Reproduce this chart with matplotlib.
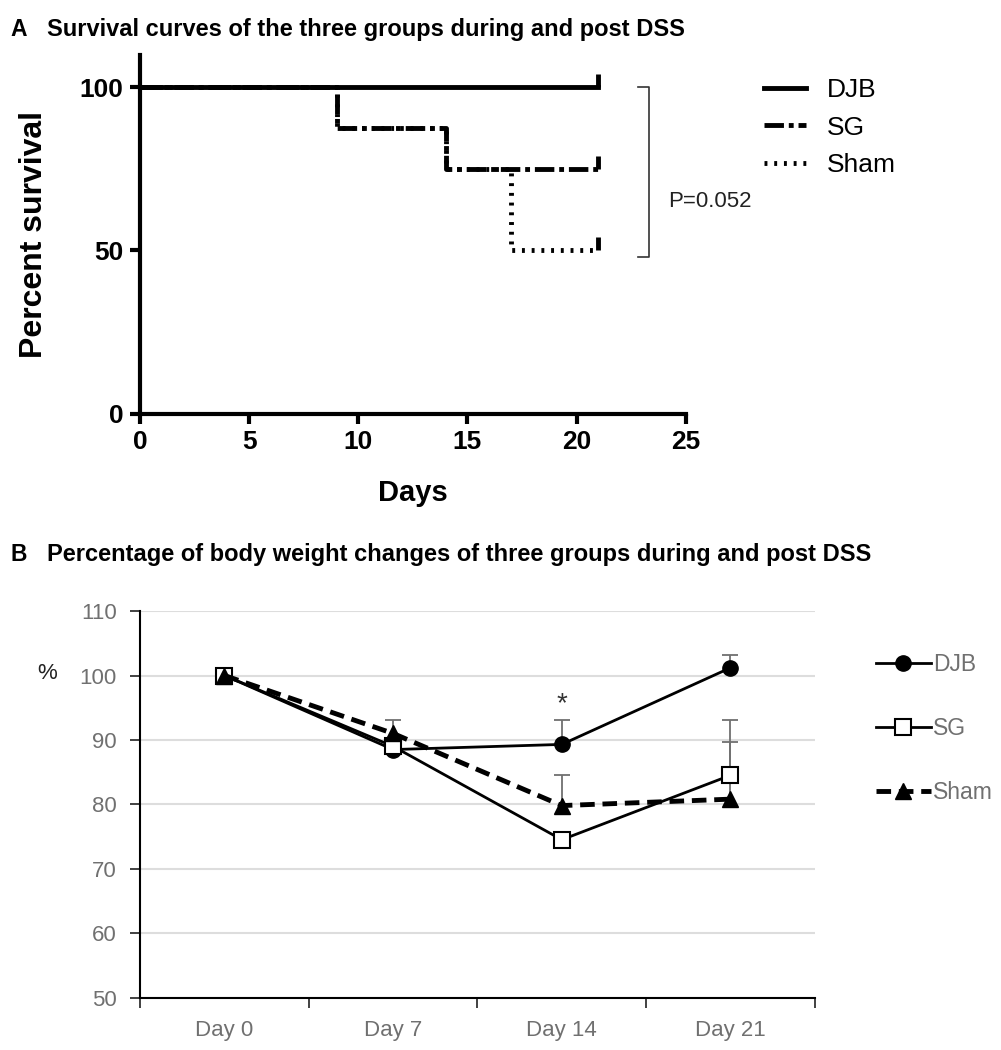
import numpy as np
import matplotlib.pyplot as plt

# survival data (panel A)
sg_days = [0, 9, 14, 21]
sg_surv = [100, 87.5, 75, 75]
sham_days = [0, 9, 14, 17, 21]
sham_surv = [100, 87.5, 75, 50, 50]
djb_days = [0, 21]
djb_surv = [100, 100]
censor_day = 21
censor_vals = [100, 75, 50]

# body weight data (panel B)
cats = ["Day 0", "Day 7", "Day 14", "Day 21"]
djb_w = [100, 88.5, 89.3, 101.2]
djb_err = [0, 0, 3.8, 2.0]
sg_w = [100, 89.0, 74.5, 84.5]
sg_err = [0, 0, 0, 8.6]
sham_w = [100, 91.0, 79.8, 80.8]
sham_err = [0, 2.1, 4.8, 8.8]

plt.rcParams['font.family'] = ['Liberation Sans', 'DejaVu Sans']

fig = plt.figure(figsize=(10.01, 10.5), dpi=100)

# ---------- panel A ----------
ax = fig.add_axes([0.14, 0.606, 0.545, 0.342])
lw = 3.5
ax.step(djb_days, djb_surv, where='post', color='black', lw=lw, label='DJB')
ax.step(sg_days, sg_surv, where='post', color='black', lw=lw,
        linestyle=(0, (4, 1, 1, 1)), label='SG')
ax.step(sham_days, sham_surv, where='post', color='black', lw=lw,
        linestyle=(0, (0.6, 1.4)), label='Sham')
# censor marks at last day
for v in censor_vals:
    ax.plot([censor_day, censor_day], [v, v + 4], color='black', lw=lw,
            solid_capstyle='butt')
ax.set_xlim(0, 25)
ax.set_ylim(0, 110)
ax.set_xticks([0, 5, 10, 15, 20, 25])
ax.set_yticks([0, 50, 100])
ax.spines['top'].set_visible(False)
ax.spines['right'].set_visible(False)
ax.spines['left'].set_linewidth(3)
ax.spines['bottom'].set_linewidth(3)
ax.tick_params(width=3, length=7, direction='out', labelsize=19, pad=5)
for t in ax.get_xticklabels() + ax.get_yticklabels():
    t.set_fontweight('bold')
ax.set_xlabel('Days', fontsize=21, fontweight='bold', labelpad=18)
ax.set_ylabel('Percent survival', fontsize=23, fontweight='bold', labelpad=22)
leg = ax.legend(loc='upper left', bbox_to_anchor=(1.10, 1.0), frameon=False,
                fontsize=19, handlelength=1.6, labelspacing=0.5,
                handletextpad=0.8)
for h in leg.get_lines():
    h.set_linewidth(3.5)

# bracket + p-value
ax.plot([22.8, 23.3, 23.3, 22.8], [100, 100, 48, 48], color='#333333', lw=1.2,
        clip_on=False)
ax.text(24.2, 65, 'P=0.052', fontsize=16, va='center', color='#222222',
        clip_on=False)

fig.text(0.010, 0.972, 'A', fontsize=16.5, fontweight='bold', va='center')
fig.text(0.047, 0.972, 'Survival curves of the three groups during and post DSS',
         fontsize=17, fontweight='bold', va='center')

# ---------- panel B ----------
bx = fig.add_axes([0.14, 0.05, 0.674, 0.368])
x = np.arange(len(cats))
gray = '#707070'
for w, e in [(djb_w, djb_err), (sg_w, sg_err), (sham_w, sham_err)]:
    w = np.array(w)
    e = np.array(e)
    m = e > 0
    bx.vlines(x[m], w[m], w[m] + e[m], color=gray, lw=1.3, zorder=2)
    bx.plot(x[m], w[m] + e[m], linestyle='none', marker='_', ms=12, mew=1.3,
            color=gray, zorder=2)
bx.plot(x, djb_w, color='black', lw=2, marker='o', ms=11, mfc='black',
        label='DJB', zorder=3)
bx.plot(x, sg_w, color='black', lw=2, marker='s', ms=11, mfc='white',
        mew=1.5, label='SG', zorder=3)
bx.plot(x, sham_w, color='black', lw=3.5, linestyle=(0, (3, 1.6)),
        marker='^', ms=12, mfc='black', label='Sham', zorder=3)
bx.set_xlim(-0.5, 3.5)
bx.set_ylim(50, 110)
bx.set_yticks(range(50, 111, 10))
bx.set_xticks(x)
bx.set_xticklabels(cats)
bx.set_xticks([-0.5, 0.5, 1.5, 2.5, 3.5], minor=True)
bx.tick_params(axis='x', which='major', length=0, pad=16, labelsize=16,
               labelcolor=gray)
bx.tick_params(axis='x', which='minor', length=7, width=1.3, color='#333333')
bx.tick_params(axis='y', length=7, width=1.3, color='#333333', labelsize=16,
               labelcolor=gray, pad=10)
bx.yaxis.grid(True, color='#dddddd', lw=1.5)
bx.set_axisbelow(True)
bx.spines['top'].set_visible(False)
bx.spines['right'].set_visible(False)
bx.spines['left'].set_linewidth(1.5)
bx.spines['bottom'].set_linewidth(1.5)
fig.text(0.047, 0.359, '%', fontsize=16, color='#222222', ha='center',
         va='center')
bx.text(2, 95.5, '*', fontsize=20, ha='center', va='center', color='#333333')
bx.legend(loc='upper left', bbox_to_anchor=(1.06, 0.945), frameon=False,
          fontsize=16.5, handlelength=2.4, handletextpad=0.1,
          labelspacing=1.8, labelcolor=gray)

fig.text(0.010, 0.472, 'B', fontsize=16.5, fontweight='bold', va='center')
fig.text(0.047, 0.472,
         'Percentage of body weight changes of three groups during and post DSS',
         fontsize=17, fontweight='bold', va='center')

fig.savefig('out.png', dpi=100)
